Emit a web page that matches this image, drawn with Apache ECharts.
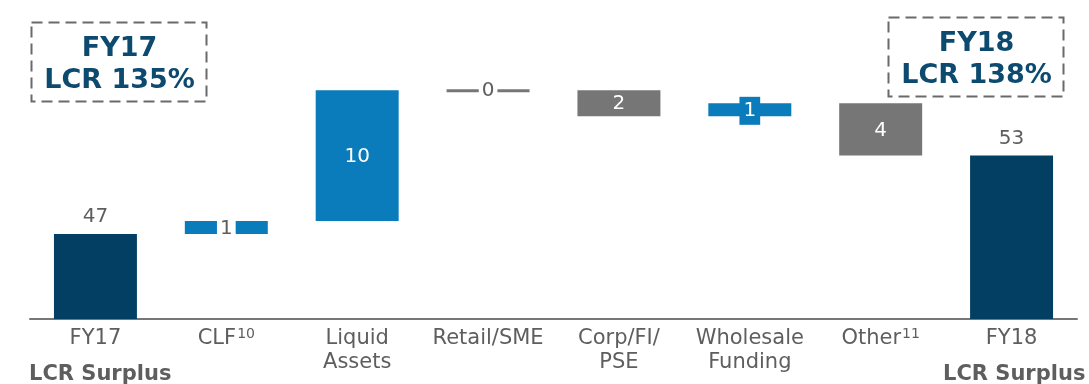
<!DOCTYPE html>
<html><head><meta charset="utf-8">
<script src="https://cdn.jsdelivr.net/npm/echarts@6/dist/echarts.min.js"></script>
<style>html,body{margin:0;padding:0;background:#fff}#c{width:1089px;height:384px}</style>
</head><body><div id="c"></div>
<script>
// ---- data ----
const categories = ['FY17', 'CLF', 'Liquid\nAssets', 'Retail/SME', 'Corp/FI/\nPSE', 'Wholesale\nFunding', 'Other', 'FY18'];
const footnotes = ['', '10', '', '', '', '', '11', ''];
const values = [47, 1, 10, 0, -2, 1, -4, 53];
const isTotal = [true, false, false, false, false, false, false, true];
const boxTitles = ['FY17', 'FY18'];
const boxValues = ['LCR 135%', 'LCR 138%'];
const subLabel = 'LCR Surplus';

// ---- layout / style ----
const AXIS_MIN = 40.5, AXIS_MAX = 64.9;
const NAVY = '#023F63', BLUE = '#0A7BBB', GRAY = '#767676', TEXT = '#5e5e5e';
const labelModes = ['above', 'gap', 'inside', 'gap', 'inside', 'boxed', 'inside', 'above'];
const FONT = '"DejaVu Sans", Verdana, sans-serif';

let cum = 0;
const rows = values.map((v, i) => {
  if (isTotal[i]) { cum = v; return [i, AXIS_MIN, v, v]; }
  const r = [i, cum, cum + v, v]; cum += v; return r;
});

function renderItem(params, api) {
  const i = api.value(0), s = api.value(1), e = api.value(2), v = api.value(3);
  const w = api.size([1, 0])[0] * 0.634;
  const p1 = api.coord([i, s]), p2 = api.coord([i, e]);
  const x = p1[0] - w / 2, cx = p1[0];
  const yTop = Math.min(p1[1], p2[1]), h = Math.abs(p1[1] - p2[1]);
  const mode = labelModes[i];
  let color = isTotal[i] ? NAVY : (v > 0 ? BLUE : GRAY);
  const children = [];
  const txt = String(Math.abs(v));
  if (v === 0) {
    children.push({ type: 'rect', shape: { x: x, y: p1[1] - 1, width: w, height: 3 }, style: { fill: GRAY } });
  } else {
    children.push({ type: 'rect', shape: { x: x, y: yTop, width: w, height: h }, style: { fill: color } });
  }
  const cy = yTop + h / 2;
  const base = { font: '20px ' + FONT, align: 'center', verticalAlign: 'middle', text: txt };
  if (mode === 'above') {
    children.push({ type: 'text', style: Object.assign({}, base, { x: cx, y: yTop - 17, fill: TEXT }) });
  } else if (mode === 'gap') {
    children.push({ type: 'text', style: Object.assign({}, base, { x: cx, y: cy + 1, fill: TEXT, backgroundColor: '#fff', padding: [2, 3, 2, 3] }) });
  } else if (mode === 'boxed') {
    children.push({ type: 'text', style: Object.assign({}, base, { x: cx, y: cy + 1, fill: '#fff', backgroundColor: color, padding: [4, 4, 4, 4] }) });
  } else {
    children.push({ type: 'text', style: Object.assign({}, base, { x: cx, y: cy + 1, fill: '#fff' }) });
  }
  return { type: 'group', children: children };
}

const chart = echarts.init(document.getElementById('c'), null, { renderer: 'canvas' });

function boxGraphic(left, top, title, val) {
  return {
    type: 'group', left: left, top: top, children: [
      { type: 'rect', shape: { x: 0, y: 0, width: 175, height: 79 }, style: { fill: 'none', stroke: '#6a6a6a', lineWidth: 2, lineDash: [11, 6] } },
      { type: 'text', style: { x: 88, y: 26, text: title, font: 'bold 27px ' + FONT, fill: '#0D4A6F', align: 'center', verticalAlign: 'middle' } },
      { type: 'text', style: { x: 88, y: 58, text: val, font: 'bold 27px ' + FONT, fill: '#0D4A6F', align: 'center', verticalAlign: 'middle' } }
    ]
  };
}

chart.setOption({
  animation: false,
  grid: { left: 30, right: 12, top: 0, bottom: 65 },
  xAxis: {
    type: 'category', data: categories,
    axisLine: { lineStyle: { color: '#777', width: 2 } },
    axisTick: { show: false },
    axisLabel: {
      interval: 0, margin: 8, color: TEXT, fontFamily: FONT, fontSize: 21, lineHeight: 24,
      formatter: (val, idx) => footnotes[idx] ? val + '{sup|' + footnotes[idx] + '}' : val,
      rich: { sup: { fontSize: 14, fontFamily: FONT, color: TEXT, padding: [0, 0, 10, 1] } }
    }
  },
  yAxis: { type: 'value', min: AXIS_MIN, max: AXIS_MAX, show: false, splitLine: { show: false } },
  series: [{
    type: 'custom', renderItem: renderItem, data: rows,
    encode: { x: 0, y: [1, 2] }, clip: false
  }],
  graphic: [
    boxGraphic(29, 20, boxTitles[0], boxValues[0]),
    boxGraphic(886, 15, boxTitles[1], boxValues[1]),
    { type: 'text', left: 29, top: 364, style: { text: subLabel, font: 'bold 21px ' + FONT, fill: TEXT } },
    { type: 'text', left: 943, top: 364, style: { text: subLabel, font: 'bold 21px ' + FONT, fill: TEXT } }
  ]
});
</script>
</body></html>
